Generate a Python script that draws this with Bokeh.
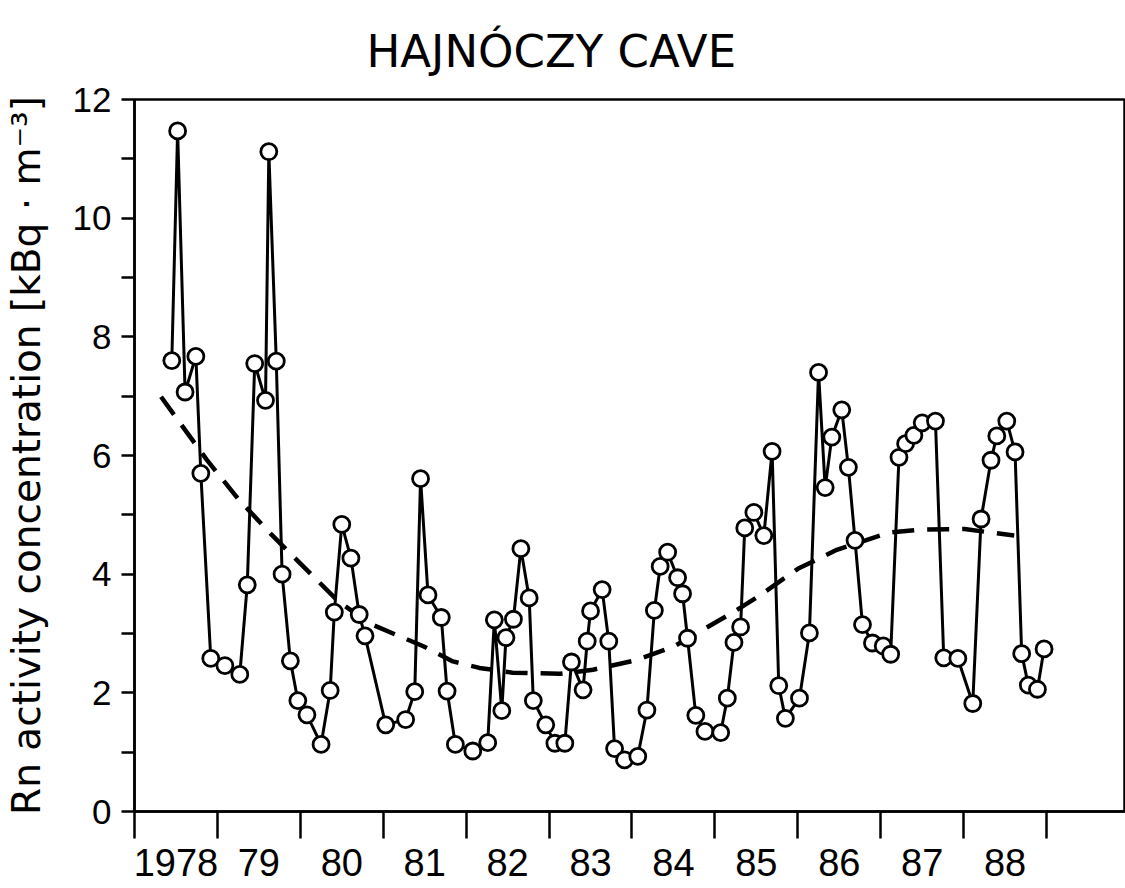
from bokeh.plotting import figure
from bokeh.models import FixedTicker, Range1d
from bokeh.embed import file_html
from bokeh.resources import INLINE

# ---- data ----
rn_year = [
    1978.45, 1978.52, 1978.61, 1978.74, 1978.80, 1978.92,
    1979.09, 1979.27, 1979.36, 1979.45, 1979.58, 1979.62, 1979.71, 1979.78, 1979.88, 1979.97,
    1980.08, 1980.25, 1980.36, 1980.41, 1980.50, 1980.61, 1980.71, 1980.78,
    1981.03, 1981.27, 1981.38, 1981.45, 1981.54, 1981.70, 1981.77, 1981.87,
    1982.08, 1982.26, 1982.34, 1982.43, 1982.48, 1982.57, 1982.66, 1982.76, 1982.81, 1982.96,
    1983.07, 1983.19, 1983.27, 1983.41, 1983.46, 1983.50, 1983.64, 1983.72, 1983.79, 1983.91,
    1984.07, 1984.18, 1984.27, 1984.34, 1984.43, 1984.55, 1984.61, 1984.67, 1984.77, 1984.88,
    1985.07, 1985.15, 1985.23, 1985.31, 1985.36, 1985.47, 1985.59, 1985.69, 1985.77, 1985.85,
    1986.02, 1986.14, 1986.25, 1986.33, 1986.41, 1986.53, 1986.61, 1986.69, 1986.78, 1986.90,
    1987.03, 1987.12, 1987.22, 1987.30, 1987.40, 1987.50, 1987.66, 1987.76, 1987.93,
    1988.11, 1988.21, 1988.33, 1988.40, 1988.52, 1988.62, 1988.70, 1988.78, 1988.89, 1988.97,
]
rn_value = [
    7.60, 11.47, 7.07, 7.67, 5.70, 2.58,
    2.46, 2.31, 3.82, 7.55, 6.93, 11.12, 7.59, 4.00, 2.54, 1.87,
    1.63, 1.13, 2.04, 3.36, 4.84, 4.27, 3.32, 2.96,
    1.46, 1.55, 2.02, 5.61, 3.65, 3.27, 2.03, 1.13,
    1.02, 1.16, 3.23, 1.70, 2.93, 3.24, 4.43, 3.60, 1.87, 1.46,
    1.15, 1.15, 2.52, 2.05, 2.87, 3.38, 3.74, 2.87, 1.06, 0.87,
    0.93, 1.71, 3.39, 4.13, 4.37, 3.94, 3.67, 2.92, 1.62, 1.35,
    1.33, 1.91, 2.85, 3.11, 4.78, 5.04, 4.65, 6.07, 2.12, 1.57,
    1.91, 3.01, 7.40, 5.46, 6.31, 6.77, 5.80, 4.57, 3.15, 2.84,
    2.79, 2.65, 5.97, 6.20, 6.34, 6.55, 6.58, 2.59, 2.58,
    1.82, 4.93, 5.92, 6.33, 6.58, 6.06, 2.66, 2.13, 2.06, 2.74,
]

trend_year = [1978.32, 1978.87, 1979.25, 1979.65, 1979.90, 1980.46, 1980.85, 1981.49,
              1981.84, 1982.16, 1982.56, 1983.13, 1983.53, 1984.02, 1984.49, 1985.21,
              1985.53, 1986.00, 1986.47, 1987.10, 1987.49, 1988.01, 1988.61]
trend_value = [6.99, 5.93, 5.27, 4.67, 4.32, 3.54, 3.16, 2.78,
               2.53, 2.42, 2.34, 2.32, 2.39, 2.54, 2.77, 3.35,
               3.63, 4.09, 4.41, 4.70, 4.75, 4.76, 4.65]

year_bounds = [1978, 1979, 1980, 1981, 1982, 1983, 1984, 1985, 1986, 1987, 1988, 1989]
year_labels = ["1978", "79", "80", "81", "82", "83", "84", "85", "86", "87", "88"]
y_major = [0, 2, 4, 6, 8, 10, 12]
y_minor = [1, 3, 5, 7, 9, 11]

title_text = "HAJNÓCZY CAVE"
y_title = "Rn activity concentration [kBq · m⁻³]"

# ---- figure ----
p = figure(width=1125, height=888,
           x_range=Range1d(1978.0, 1989.94), y_range=Range1d(0, 12),
           output_backend="svg", toolbar_location=None,
           min_border_left=133, min_border_right=1,
           min_border_top=99, min_border_bottom=77)
p.background_fill_color = "white"
p.border_fill_color = "white"
p.xgrid.visible = False
p.ygrid.visible = False
p.outline_line_color = "black"
p.outline_line_width = 2.5
p.outline_line_alpha = 1.0

p.title.text = title_text
p.title.text_font = "DejaVu Sans"
p.title.text_font_size = "45px"
p.title.text_font_style = "normal"
p.title.text_color = "black"
p.title.align = "left"
p.title.offset = 232
p.title.standoff = 44

label_pos = [y + 0.5 for y in year_bounds[:-1]]
xa = p.xaxis[0]
xa.ticker = FixedTicker(ticks=label_pos, minor_ticks=year_bounds)
xa.major_label_overrides = {t: s for t, s in zip(label_pos, year_labels)}
xa.major_tick_out = 0
xa.major_tick_in = 0
xa.minor_tick_out = 27
xa.minor_tick_in = 0
xa.minor_tick_line_width = 2.5
xa.minor_tick_line_color = "black"
xa.axis_line_width = 2.5
xa.axis_line_color = "black"
xa.major_label_text_font = "Liberation Sans"
xa.major_label_text_font_size = "38px"
xa.major_label_text_color = "black"
xa.major_label_standoff = 10

ya = p.yaxis[0]
ya.ticker = FixedTicker(ticks=y_major, minor_ticks=y_minor)
ya.major_tick_out = 13
ya.major_tick_in = 0
ya.minor_tick_out = 13
ya.minor_tick_in = 0
ya.major_tick_line_width = 2.5
ya.minor_tick_line_width = 2.5
ya.major_tick_line_color = "black"
ya.minor_tick_line_color = "black"
ya.axis_line_width = 2.5
ya.axis_line_color = "black"
ya.major_label_text_font = "Liberation Sans"
ya.major_label_text_font_size = "35px"
ya.major_label_text_color = "black"
ya.major_label_standoff = 10
ya.axis_label = y_title
ya.axis_label_text_font = "DejaVu Sans"
ya.axis_label_text_font_size = "39px"
ya.axis_label_text_font_style = "normal"
ya.axis_label_text_color = "black"
ya.axis_label_standoff = 21

p.line(trend_year, trend_value, line_dash="22 13", line_width=4.5, color="black")
p.line(rn_year, rn_value, line_width=3, color="black")
p.scatter(rn_year, rn_value, size=16, fill_color="white", line_color="black", line_width=2.8)

open("out.html", "w").write(file_html(p, INLINE))
